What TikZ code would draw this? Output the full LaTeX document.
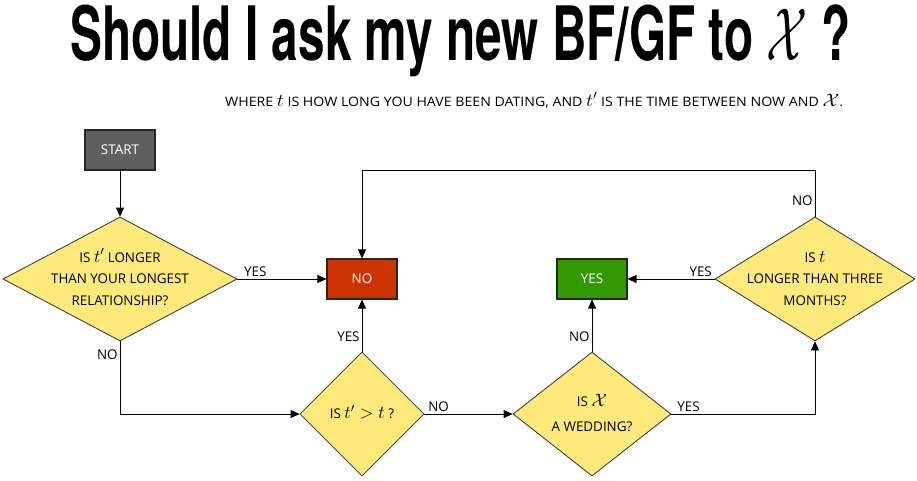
\RequirePackage{fix-cm}
\documentclass[tikz,border=0pt]{standalone}
\usepackage{fontspec}
\setmainfont{Open Sans}
\newfontfamily\titlefont{TeX Gyre Heros}
\usepackage{graphicx}
\usetikzlibrary{shapes.geometric,arrows.meta}
\definecolor{decyellow}{HTML}{FFE97A}
\definecolor{nored}{HTML}{CC3300}
\definecolor{yesgreen}{HTML}{339900}
\definecolor{startgray}{HTML}{5F5F5F}
\newcommand{\lbl}{\fontsize{13.4}{21.5}\selectfont}
\newcommand{\mbig}[1]{{\fontsize{18}{18}\selectfont$#1$}}
\newcommand{\dtext}[1]{\makebox[0pt]{\smash{\raisebox{-4pt}{\begin{tabular}{@{}c@{}}#1\end{tabular}}}}}
\begin{document}
\begin{tikzpicture}[x=1pt,y=-1pt,
  box/.style={draw=black!85, line width=1.2pt, minimum width=70pt, minimum height=40pt, inner sep=0pt, text=white, font=\lbl},
  dec/.style={diamond, draw=black!80, fill=decyellow, line width=0.8pt, inner sep=0pt, font=\lbl},
  conn/.style={-{Triangle[length=9pt,width=8pt]}, line width=0.8pt},
  lab/.style={font=\lbl, inner sep=2pt}]
\useasboundingbox (0,0) rectangle (917,480);

\node[inner sep=0pt, anchor=base west] (title) at (70,60)
  {\resizebox{780pt}{\height}{\titlefont\bfseries\fontsize{75}{75}\selectfont Should I ask my new BF/GF to $\mathcal{X}$ ?}};
\node[inner sep=0pt, anchor=base west] (sub) at (225,106)
  {\resizebox{618pt}{\height}{\fontsize{13}{13}\selectfont WHERE \mbig{t} IS HOW LONG YOU HAVE BEEN DATING, AND \mbig{t'} IS THE TIME BETWEEN NOW AND \mbig{\mathcal{X}}.}};

\node[box, fill=startgray] (start) at (120,150) {START};
\node[dec, minimum width=234pt, minimum height=124pt] (d1) at (120,279)
  {\dtext{IS \mbig{t'} LONGER\\THAN YOUR LONGEST\\RELATIONSHIP?}};
\node[box, fill=nored] (no) at (362,279) {NO};
\node[dec, minimum width=124pt, minimum height=124pt] (d2) at (362,414)
  {\dtext{IS \mbig{t' > t} ?}};
\node[dec, minimum width=158pt, minimum height=124pt] (d3) at (592,414)
  {\dtext{IS \mbig{\mathcal{X}}\\[3.5pt]A WEDDING?}};
\node[box, fill=yesgreen] (yes) at (592,279) {YES};
\node[dec, minimum width=200pt, minimum height=124pt] (d4) at (815,279)
  {\dtext{IS \mbig{t}\\LONGER THAN THREE\\MONTHS?}};

\coordinate (loopR) at (815,170);
\coordinate (loopL) at (362,170);

\draw[conn] (start) -- (d1);
\draw[conn] (d1) -- node[lab, above, pos=0.2] {YES} (no);
\draw[conn] (d1.south) |- node[lab, left, pos=0.09] {NO} (d2.west);
\draw[conn] (d2.north) -- node[lab, left, pos=0.28] {YES} (no.south);
\draw[conn] (d2.east) -- node[lab, above, pos=0.16] {NO} (d3.west);
\draw[conn] (d3.north) -- node[lab, left, pos=0.28] {NO} (yes.south);
\draw[conn] (d3.east) -| node[lab, above, pos=0.06] {YES} (d4.south);
\draw[conn] (d4.west) -- node[lab, above, pos=0.16] {YES} (yes.east);
\draw[conn] (d4.north) -- node[lab, left, pos=0.34] {NO} (loopR) -- (loopL) -- (no.north);
\end{tikzpicture}
\end{document}
